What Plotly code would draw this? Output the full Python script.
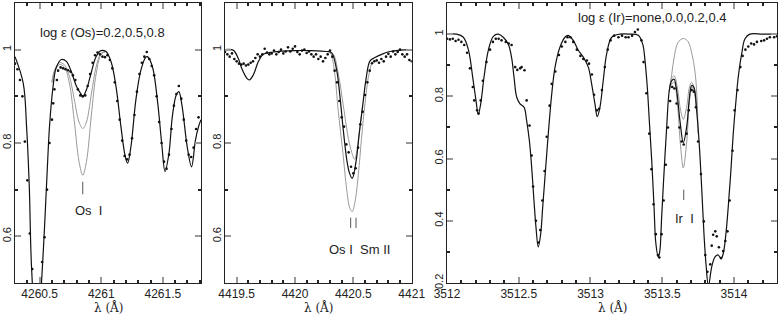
import plotly.graph_objects as go

# ---------------- painel 1 : Os I 4260.85 ----------------
p1_syn_x = [4260.30, 4260.367, 4260.394, 4260.416, 4260.434, 4260.48, 4260.515, 4260.54, 4260.563,
            4260.58, 4260.609, 4260.633, 4260.676, 4260.717, 4260.757, 4260.80, 4260.84, 4260.85,
            4260.88, 4260.917, 4260.958, 4260.998, 4261.039, 4261.08, 4261.12, 4261.16, 4261.195,
            4261.214, 4261.241, 4261.281, 4261.322, 4261.362, 4261.375, 4261.415, 4261.456, 4261.491,
            4261.518, 4261.55, 4261.577, 4261.609, 4261.63, 4261.657, 4261.698, 4261.733, 4261.765,
            4261.79, 4261.81]
p1_syn_y = [0.985, 0.928, 0.835, 0.706, 0.535, 0.36, 0.5, 0.621, 0.749,
            0.835, 0.921, 0.96, 0.979, 0.975, 0.953, 0.921, 0.903, 0.899,
            0.914, 0.949, 0.985, 0.998, 0.996, 0.974, 0.921, 0.835, 0.771,
            0.757, 0.792, 0.892, 0.956, 0.984, 0.985, 0.964, 0.892, 0.799,
            0.739, 0.778, 0.856, 0.903, 0.91, 0.878, 0.792, 0.749, 0.806,
            0.835, 0.85]
p1_os_x = [4260.60, 4260.62, 4260.66, 4260.70, 4260.74, 4260.78, 4260.82, 4260.85, 4260.88,
           4260.92, 4260.96, 4261.0, 4261.04]
p1_os05_y = [0.93, 0.955, 0.972, 0.968, 0.945, 0.895, 0.845, 0.831, 0.845, 0.905, 0.965, 0.993, 0.996]
p1_os08_y = [0.93, 0.953, 0.968, 0.963, 0.93, 0.85, 0.76, 0.731, 0.76, 0.86, 0.95, 0.99, 0.996]
p1_obs_x = [4260.30, 4260.32, 4260.34, 4260.36, 4260.38, 4260.40, 4260.42, 4260.44, 4260.52,
            4260.54, 4260.56, 4260.58, 4260.60, 4260.61, 4260.62, 4260.64, 4260.65, 4260.67,
            4260.69, 4260.71, 4260.73, 4260.75, 4260.77, 4260.79, 4260.81, 4260.83, 4260.85,
            4260.87, 4260.89, 4260.91, 4260.93, 4260.95, 4260.97, 4260.99, 4261.01, 4261.03,
            4261.05, 4261.07, 4261.09, 4261.11, 4261.13, 4261.15, 4261.17, 4261.19, 4261.21,
            4261.23, 4261.25, 4261.27, 4261.29, 4261.31, 4261.33, 4261.35, 4261.37, 4261.39,
            4261.41, 4261.43, 4261.45, 4261.47, 4261.49, 4261.51, 4261.53, 4261.55, 4261.57,
            4261.59, 4261.61, 4261.63, 4261.65, 4261.67, 4261.69, 4261.71, 4261.73, 4261.75,
            4261.77, 4261.79]
p1_obs_y = [0.970, 0.958, 0.935, 0.900, 0.803, 0.720, 0.606, 0.530, 0.545,
            0.598, 0.700, 0.800, 0.850, 0.885, 0.915, 0.935, 0.955, 0.962,
            0.960, 0.958, 0.956, 0.953, 0.945, 0.935, 0.915, 0.902, 0.900,
            0.902, 0.922, 0.948, 0.972, 0.988, 0.994, 0.990, 0.985, 0.984,
            0.988, 0.978, 0.960, 0.930, 0.890, 0.850, 0.805, 0.772, 0.765,
            0.775, 0.810, 0.860, 0.910, 0.948, 0.972, 0.985, 0.995, 0.980,
            0.965, 0.945, 0.900, 0.845, 0.800, 0.760, 0.745, 0.775, 0.830,
            0.880, 0.905, 0.922, 0.895, 0.850, 0.805, 0.775, 0.770, 0.790,
            0.830, 0.855]

# ---------------- painel 2 : Os I + Sm II 4420.5 ----------------
p2_syn_x = [4419.40, 4419.47, 4419.514, 4419.543, 4419.586, 4419.608, 4419.643, 4419.685, 4419.728,
            4419.814, 4420.0, 4420.128, 4420.27, 4420.314, 4420.357, 4420.385, 4420.414, 4420.443,
            4420.465, 4420.49, 4420.523, 4420.55, 4420.58, 4420.608, 4420.643, 4420.685, 4420.743,
            4420.814, 4420.9, 4421.0]
p2_syn_y = [1.0, 0.999, 0.981, 0.96, 0.939, 0.935, 0.946, 0.974, 0.99,
            0.995, 0.998, 0.998, 0.996, 0.993, 0.956, 0.9, 0.827, 0.765,
            0.737, 0.724, 0.76, 0.82, 0.88, 0.936, 0.976, 0.983, 0.99,
            0.996, 0.999, 1.0]
p2_hi_x = [4420.30, 4420.33, 4420.37, 4420.414, 4420.457, 4420.486, 4420.51, 4420.535, 4420.56, 4420.58]
p2_hi_y = [0.995, 0.99, 0.95, 0.88, 0.81, 0.78, 0.765, 0.79, 0.84, 0.88]
p2_lo_x = [4420.29, 4420.31, 4420.34, 4420.37, 4420.41, 4420.443, 4420.47, 4420.49, 4420.514,
           4420.543, 4420.57, 4420.60, 4420.628, 4420.66]
p2_lo_y = [0.996, 0.99, 0.95, 0.87, 0.78, 0.70, 0.66, 0.653, 0.674, 0.733, 0.81, 0.885, 0.94, 0.975]
p2_obs_x = [4419.40, 4419.42, 4419.44, 4419.46, 4419.48, 4419.50, 4419.52, 4419.54, 4419.56,
            4419.58, 4419.60, 4419.62, 4419.64, 4419.66, 4419.68, 4419.70, 4419.72, 4419.74,
            4419.76, 4419.78, 4419.80, 4419.82, 4419.84, 4419.86, 4419.88, 4419.90, 4419.92,
            4419.94, 4419.96, 4419.98, 4420.00, 4420.02, 4420.04, 4420.06, 4420.08, 4420.10,
            4420.12, 4420.14, 4420.16, 4420.18, 4420.20, 4420.22, 4420.24, 4420.26, 4420.28,
            4420.30, 4420.32, 4420.34, 4420.36, 4420.38, 4420.40, 4420.42, 4420.44, 4420.46,
            4420.48, 4420.50, 4420.52, 4420.54, 4420.56, 4420.58, 4420.60, 4420.62, 4420.64,
            4420.66, 4420.68, 4420.70, 4420.72, 4420.74, 4420.76, 4420.78, 4420.80, 4420.82,
            4420.84, 4420.86, 4420.88, 4420.90, 4420.92, 4420.94, 4420.96, 4420.98, 4421.00]
p2_obs_y = [0.995, 0.990, 0.985, 0.992, 0.980, 0.975, 0.970, 0.968, 0.970,
            0.966, 0.968, 0.972, 0.975, 0.982, 0.990, 0.985, 0.990, 1.002,
            0.994, 0.990, 0.992, 0.998, 0.990, 0.995, 1.000, 0.992, 0.996,
            1.005, 0.996, 1.002, 1.007, 0.995, 0.990, 0.998, 1.000, 0.993,
            0.996, 0.990, 0.985, 0.990, 0.980, 0.985, 0.975, 0.982, 0.990,
            0.998, 0.985, 0.955, 0.930, 0.890, 0.855, 0.835, 0.797, 0.780,
            0.749, 0.735, 0.746, 0.790, 0.840, 0.867, 0.903, 0.930, 0.955,
            0.971, 0.975, 0.977, 0.972, 0.980, 0.975, 0.985, 0.991, 0.985,
            0.996, 0.990, 0.995, 1.000, 0.990, 0.985, 0.990, 0.978, 0.975]

# ---------------- painel 3 : Ir I 3513.65 ----------------
p3_syn_x = [3512.0, 3512.067, 3512.114, 3512.149, 3512.179, 3512.202, 3512.218, 3512.235, 3512.258,
            3512.288, 3512.323, 3512.358, 3512.392, 3512.427, 3512.45, 3512.467, 3512.486, 3512.509,
            3512.537, 3512.555, 3512.574, 3512.59, 3512.606, 3512.62, 3512.636, 3512.653, 3512.667,
            3512.683, 3512.706, 3512.73, 3512.753, 3512.787, 3512.822, 3512.845, 3512.88, 3512.915,
            3512.95, 3512.985, 3513.008, 3513.031, 3513.047, 3513.066, 3513.089, 3513.113, 3513.148,
            3513.206, 3513.275, 3513.333, 3513.364, 3513.38, 3513.396, 3513.41, 3513.427, 3513.443,
            3513.456, 3513.473, 3513.484, 3513.496, 3513.512, 3513.531, 3513.549, 3513.566, 3513.583,
            3513.6, 3513.624, 3513.647, 3513.67, 3513.69, 3513.705, 3513.721, 3513.74, 3513.758,
            3513.775, 3513.791, 3513.805, 3513.822, 3513.845, 3513.868, 3513.89, 3513.91, 3513.925,
            3513.944, 3513.96, 3513.977, 3513.995, 3514.014, 3514.03, 3514.054, 3514.077, 3514.111,
            3514.2, 3514.3]
p3_syn_y = [1.0, 1.0, 0.99, 0.95, 0.862, 0.787, 0.742, 0.776, 0.862,
            0.948, 0.993, 1.0, 0.99, 0.968, 0.925, 0.862, 0.797, 0.776,
            0.765, 0.722, 0.658, 0.573, 0.466, 0.38, 0.316, 0.358, 0.444,
            0.541, 0.68, 0.808, 0.894, 0.958, 0.99, 0.996, 0.98, 0.948,
            0.926, 0.894, 0.84, 0.776, 0.735, 0.765, 0.851, 0.937, 0.99,
            1.0, 1.0, 0.996, 0.968, 0.915, 0.829, 0.722, 0.593, 0.444,
            0.326, 0.283, 0.305, 0.411, 0.55, 0.70, 0.818, 0.85, 0.855,
            0.82, 0.72, 0.651, 0.70, 0.797, 0.835, 0.829, 0.754, 0.647,
            0.507, 0.358, 0.262, 0.19, 0.252, 0.284, 0.29, 0.278, 0.294,
            0.358, 0.444, 0.55, 0.68, 0.786, 0.862, 0.937, 0.985, 1.0,
            1.0, 1.0]
p3_ir_x = [3513.549, 3513.566, 3513.583, 3513.605, 3513.628, 3513.647, 3513.67, 3513.69, 3513.705,
           3513.72, 3513.74]
p3_ir00_y = [0.818, 0.858, 0.866, 0.83, 0.755, 0.726, 0.765, 0.83, 0.845, 0.83, 0.754]
p3_ir04_y = [0.818, 0.84, 0.845, 0.78, 0.64, 0.57, 0.65, 0.785, 0.83, 0.82, 0.754]
p3_none_x = [3513.549, 3513.566, 3513.583, 3513.61, 3513.647, 3513.68, 3513.71, 3513.735, 3513.75]
p3_none_y = [0.818, 0.87, 0.925, 0.973, 0.986, 0.976, 0.93, 0.85, 0.68]
p3_obs_x = [3512.00, 3512.02, 3512.04, 3512.06, 3512.08, 3512.10, 3512.12, 3512.14, 3512.16,
            3512.18, 3512.19, 3512.21, 3512.22, 3512.235, 3512.25, 3512.275, 3512.30, 3512.32,
            3512.34, 3512.36, 3512.38, 3512.41, 3512.43, 3512.45, 3512.475, 3512.49, 3512.51,
            3512.52, 3512.54, 3512.555, 3512.575, 3512.59, 3512.60, 3512.62, 3512.635, 3512.65,
            3512.665, 3512.68, 3512.695, 3512.715, 3512.73, 3512.755, 3512.78, 3512.80, 3512.825,
            3512.84, 3512.86, 3512.88, 3512.905, 3512.93, 3512.95, 3512.975, 3512.99, 3513.01,
            3513.025, 3513.045, 3513.06, 3513.08, 3513.10, 3513.12, 3513.14, 3513.165, 3513.195,
            3513.22, 3513.245, 3513.265, 3513.29, 3513.31, 3513.33, 3513.355, 3513.37, 3513.39,
            3513.41, 3513.425, 3513.44, 3513.455, 3513.47, 3513.48, 3513.495, 3513.51, 3513.525,
            3513.54, 3513.555, 3513.57, 3513.585, 3513.60, 3513.62, 3513.635, 3513.65, 3513.67,
            3513.685, 3513.705, 3513.72, 3513.735, 3513.75, 3513.77, 3513.79, 3513.80, 3513.815,
            3513.835, 3513.845, 3513.855, 3513.87, 3513.88, 3513.895, 3513.91, 3513.925, 3513.94,
            3513.955, 3513.97, 3513.99, 3514.005, 3514.025, 3514.045, 3514.06, 3514.08, 3514.10,
            3514.12, 3514.14, 3514.16, 3514.19, 3514.21, 3514.23, 3514.25, 3514.28, 3514.30]
p3_obs_y = [0.985, 0.983, 0.985, 0.978, 0.982, 0.975, 0.965, 0.94, 0.89,
            0.83, 0.787, 0.755, 0.745, 0.787, 0.85, 0.91, 0.95, 0.975,
            0.985, 0.985, 0.98, 0.975, 0.97, 0.965, 0.894, 0.885, 0.89,
            0.894, 0.884, 0.787, 0.706, 0.61, 0.51, 0.40, 0.33, 0.37,
            0.465, 0.56, 0.67, 0.77, 0.84, 0.88, 0.933, 0.96, 0.975,
            0.99, 0.99, 0.975, 0.95, 0.93, 0.92, 0.915, 0.905, 0.87,
            0.805, 0.755, 0.76, 0.82, 0.894, 0.95, 0.98, 0.995, 0.99,
            0.995, 0.99, 0.99, 0.995, 1.007, 1.015, 0.98, 0.91, 0.81,
            0.68, 0.566, 0.453, 0.357, 0.29, 0.282, 0.357, 0.465, 0.58,
            0.70, 0.785, 0.83, 0.825, 0.777, 0.70, 0.655, 0.645, 0.68,
            0.755, 0.82, 0.815, 0.765, 0.655, 0.55, 0.398, 0.29, 0.236,
            0.26, 0.32, 0.355, 0.366, 0.35, 0.315, 0.28, 0.303, 0.335,
            0.366, 0.465, 0.625, 0.755, 0.82, 0.894, 0.93, 0.95, 0.96,
            0.97, 0.967, 0.975, 0.978, 0.98, 0.985, 0.99, 0.99, 0.993]

# marcas de identificacao das linhas
p1_mark_x = [4260.85, 4260.85]
p1_mark_y = [0.717, 0.69]
p2_mark1_x = [4420.477, 4420.477]
p2_mark2_x = [4420.523, 4420.523]
p2_mark_y = [0.64, 0.618]
p3_mark_x = [3513.65, 3513.65]
p3_mark_y = [0.5, 0.467]

PRETO = "#111111"
CINZA = "#9a9a9a"
FONTE = "Liberation Sans Narrow, Liberation Sans, sans-serif"

fig = go.Figure()


def linha(x, y, cor, eixo, largura=1.2):
    fig.add_trace(go.Scatter(x=x, y=y, mode="lines", line=dict(color=cor, width=largura, shape="spline"),
                             xaxis="x" + eixo, yaxis="y" + eixo, showlegend=False, hoverinfo="skip"))


def pontos(x, y, eixo):
    fig.add_trace(go.Scatter(x=x, y=y, mode="markers", marker=dict(color=PRETO, size=2.6),
                             xaxis="x" + eixo, yaxis="y" + eixo, showlegend=False))


def marca(x, y, eixo):
    fig.add_trace(go.Scatter(x=x, y=y, mode="lines", line=dict(color="#555555", width=1),
                             xaxis="x" + eixo, yaxis="y" + eixo, showlegend=False, hoverinfo="skip"))


# painel 1
linha(p1_os_x, p1_os05_y, CINZA, "", 1.0)
linha(p1_os_x, p1_os08_y, CINZA, "", 1.0)
linha(p1_syn_x, p1_syn_y, PRETO, "")
pontos(p1_obs_x, p1_obs_y, "")
marca(p1_mark_x, p1_mark_y, "")

# painel 2
linha(p2_hi_x, p2_hi_y, CINZA, "2", 1.0)
linha(p2_lo_x, p2_lo_y, CINZA, "2", 1.0)
linha(p2_syn_x, p2_syn_y, PRETO, "2")
pontos(p2_obs_x, p2_obs_y, "2")
marca(p2_mark1_x, p2_mark_y, "2")
marca(p2_mark2_x, p2_mark_y, "2")

# painel 3
linha(p3_none_x, p3_none_y, CINZA, "3", 1.0)
linha(p3_ir_x, p3_ir00_y, CINZA, "3", 1.0)
linha(p3_ir_x, p3_ir04_y, CINZA, "3", 1.0)
linha(p3_syn_x, p3_syn_y, PRETO, "3")
pontos(p3_obs_x, p3_obs_y, "3")
marca(p3_mark_x, p3_mark_y, "3")


def eixo_x(dominio, faixa, vals, ancora):
    return dict(domain=dominio, range=faixa, anchor=ancora, showgrid=False, zeroline=False,
                automargin=False,
                showline=True, linecolor="#222222", linewidth=1, mirror="ticks",
                ticks="inside", ticklen=6, tickcolor="#999999", tickwidth=1.5,
                tickvals=vals, ticktext=[("%g" % v) for v in vals],
                minor=dict(dtick=0.1, tick0=0, ticks="inside", ticklen=3, tickcolor="#222222"),
                tickfont=dict(family=FONTE, size=12, color="#222222"))


def eixo_y(faixa, vals, ancora):
    return dict(domain=[0, 1], range=faixa, anchor=ancora, showgrid=False, zeroline=False,
                automargin=False,
                showline=True, linecolor="#222222", linewidth=1, mirror="ticks",
                ticks="inside", ticklen=6, tickcolor="#999999", tickwidth=1.5,
                tickvals=vals, ticktext=[("%g" % v) for v in vals], tickangle=-90,
                ticklabelstandoff=-1,
                minor=dict(dtick=0.1, tick0=0, ticks="inside", ticklen=3, tickcolor="#222222"),
                tickfont=dict(family=FONTE, size=11, color="#222222"))


fig.update_layout(
    width=778, height=324,
    margin=dict(l=0, r=0, t=3, b=41),
    plot_bgcolor="white", paper_bgcolor="white",
    xaxis=eixo_x([15 / 778, 201 / 778], [4260.30, 4261.81], [4260.5, 4261, 4261.5], "y"),
    yaxis=eixo_y([0.5, 1.1], [0.6, 0.8, 1], "x"),
    xaxis2=eixo_x([225 / 778, 411.7 / 778], [4419.4, 4421.0], [4419.5, 4420, 4420.5, 4421], "y2"),
    yaxis2=eixo_y([0.5, 1.1], [0.6, 0.8, 1], "x2"),
    xaxis3=eixo_x([447 / 778, 777 / 778], [3512.0, 3514.3], [3512, 3512.5, 3513, 3513.5, 3514], "y3"),
    yaxis3=eixo_y([0.2, 1.1], [0.2, 0.4, 0.6, 0.8, 1], "x3"),
)

textos = [
    ("x", "y", 4261.01, 1.036, "log \u03b5 (Os)=0.2,0.5,0.8"),
    ("x", "y", 4260.90, 0.655, "Os  I"),
    ("x2", "y2", 4420.55, 0.571, "Os I  Sm II"),
    ("x3", "y3", 3513.43, 1.052, "log \u03b5 (Ir)=none,0.0,0.2,0.4"),
    ("x3", "y3", 3513.656, 0.408, "Ir  I"),
]
for xr, yr, x, y, t in textos:
    fig.add_annotation(xref=xr, yref=yr, x=x, y=y, text=t, showarrow=False,
                       font=dict(family=FONTE, size=13, color="#222222"))

for xr in ["x", "x2", "x3"]:
    fig.add_annotation(xref=xr + " domain", yref="paper", x=0.5, y=-0.121, text="\u03bb (\u00c5)",
                       showarrow=False, font=dict(family="DejaVu Serif, serif", size=12, color="#222222"))

# a pagina padrao tem margem de 8px no body; zera para o grafico ocupar a janela toda
fig.write_html("out.html", config={"displayModeBar": False},
               post_script="document.body.style.margin='0px';")
